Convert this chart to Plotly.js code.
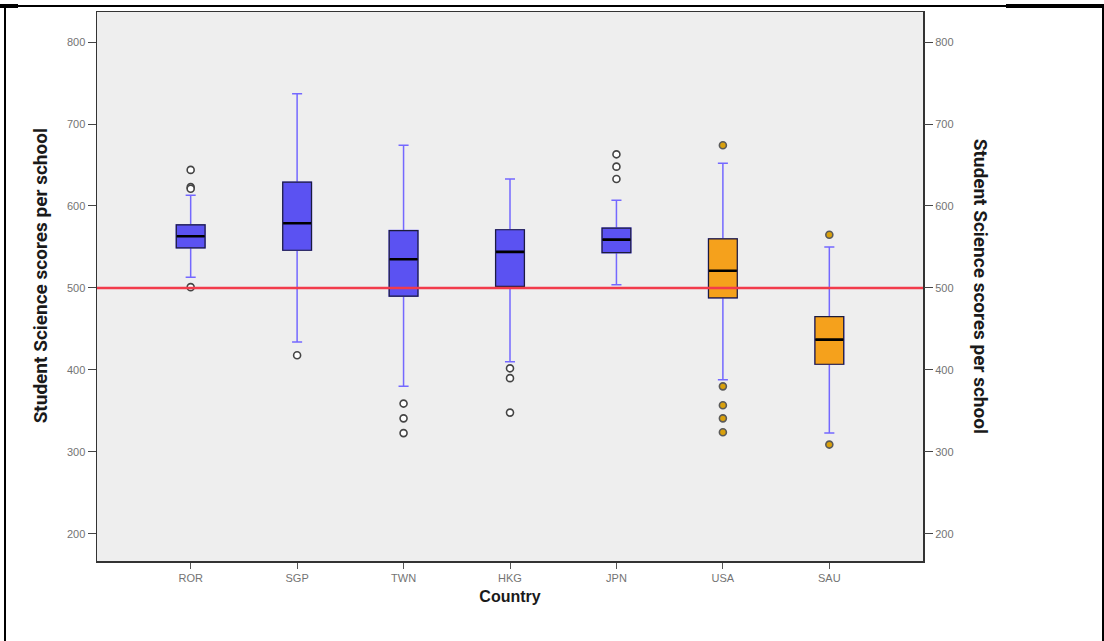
<!DOCTYPE html>
<html>
<head>
<meta charset="utf-8">
<script src="https://cdn.plot.ly/plotly-3.0.1.min.js"></script>
<style>
  html, body { margin: 0; padding: 0; background: #ffffff; }
  #wrap { position: relative; width: 1104px; height: 641px; overflow: hidden; }
  #chart { width: 1104px; height: 641px; }
  #frame { position: absolute; left: 4px; top: 5px; width: 1096px; height: 700px;
           border: 2px solid #000; pointer-events: none; }
  #tl { position: absolute; left: 0; top: 4px; width: 18px; height: 4px; background: #000; }
  #tr { position: absolute; left: 1006px; top: 4px; width: 98px; height: 4px; background: #000; }
</style>
</head>
<body>
<div id="wrap">
  <div id="chart"></div>
  <div id="frame"></div>
  <div id="tl"></div>
  <div id="tr"></div>
</div>
<script>
// ---- data ----
const countries      = ['ROR', 'SGP', 'TWN', 'HKG', 'JPN', 'USA', 'SAU'];
const q1             = [549, 546, 490, 502, 543, 488, 407];
const median         = [563, 579, 535, 544, 559, 521, 437];
const q3             = [577, 629, 570, 571, 573, 560, 465];
const lowerWhisker   = [513, 434, 380, 410, 504, 388, 323];
const upperWhisker   = [613, 737, 674, 633, 607, 652, 550];
const outliersROR    = [644, 623, 621, 501];
const outliersSGP    = [418];
const outliersTWN    = [359, 341, 323];
const outliersHKG    = [402, 390, 348];
const outliersJPN    = [663, 648, 633];
const outliersUSA    = [674, 380, 357, 341, 324];
const outliersSAU    = [565, 309];
const blueGroup      = ['ROR', 'SGP', 'TWN', 'HKG', 'JPN'];
const orangeGroup    = ['USA', 'SAU'];
const referenceScore = 500;
const yTicks         = [200, 300, 400, 500, 600, 700, 800];

// ---- styles ----
const blueFill = '#5b52f2';
const orangeFill = '#f5a11c';
const whiskerColor = '#7468ff';
const edgeColor = '#1c1c3a';
const boxW = 0.27;

function pick(arr, group) {
  return group.map(c => arr[countries.indexOf(c)]);
}

const traces = [];

// whiskers (blue) with caps
traces.push({
  type: 'box', x: countries,
  q1: q1, median: median, q3: q3,
  lowerfence: lowerWhisker, upperfence: upperWhisker,
  width: boxW, whiskerwidth: 0.35,
  fillcolor: 'rgba(0,0,0,0)',
  line: { color: whiskerColor, width: 1.5 },
  boxpoints: false, hoverinfo: 'skip', showlegend: false
});

// filled boxes
[[blueGroup, blueFill], [orangeGroup, orangeFill]].forEach(([grp, col]) => {
  const a = pick(q1, grp), m = pick(median, grp), b = pick(q3, grp);
  traces.push({
    type: 'box', x: grp,
    q1: a, median: m, q3: b, lowerfence: a, upperfence: b,
    width: boxW, whiskerwidth: 0,
    fillcolor: col,
    line: { color: edgeColor, width: 1.2 },
    boxpoints: false, hoverinfo: 'skip', showlegend: false
  });
});

// thick median lines
traces.push({
  type: 'box', x: countries,
  q1: median, median: median, q3: median, lowerfence: median, upperfence: median,
  width: boxW * 0.97, whiskerwidth: 0,
  fillcolor: 'rgba(0,0,0,0)',
  line: { color: '#000000', width: 2.6 },
  boxpoints: false, hoverinfo: 'skip', showlegend: false
});

// outliers
const outlierSets = {
  ROR: outliersROR, SGP: outliersSGP, TWN: outliersTWN, HKG: outliersHKG,
  JPN: outliersJPN, USA: outliersUSA, SAU: outliersSAU
};
function outlierTrace(grp, fill, edge) {
  const xs = [], ys = [];
  grp.forEach(c => outlierSets[c].forEach(v => { xs.push(c); ys.push(v); }));
  return {
    type: 'scatter', mode: 'markers', x: xs, y: ys,
    marker: { symbol: 'circle', size: 7, color: fill, line: { color: edge, width: 1.6 } },
    hoverinfo: 'skip', showlegend: false
  };
}
traces.push(outlierTrace(blueGroup, '#ffffff', '#444444'));
traces.push(outlierTrace(orangeGroup, '#d9a00c', '#5a5a5a'));

// invisible trace for the right axis
traces.push({
  type: 'scatter', mode: 'markers', x: [countries[0]], y: [referenceScore],
  yaxis: 'y2', marker: { opacity: 0 }, hoverinfo: 'skip', showlegend: false
});

const yRange = [167, 836.6];
const tickFont = { family: 'Liberation Sans, Arial, sans-serif', size: 11, color: '#737373' };
const titleFont = { family: 'Liberation Sans Narrow, Roboto, sans-serif', size: 19, color: '#1a1a1a', weight: 'bold' };

const layout = {
  width: 1104, height: 641,
  margin: { l: 97, r: 181, t: 12, b: 80 },
  paper_bgcolor: 'rgba(0,0,0,0)',
  plot_bgcolor: '#eeeeee',
  boxmode: 'overlay',
  showlegend: false,
  xaxis: {
    type: 'category', categoryorder: 'array', categoryarray: countries,
    range: [-0.88, 6.88],
    showgrid: false, zeroline: false,
    showline: true, linecolor: '#333333', linewidth: 1.5, mirror: true,
    ticks: 'outside', ticklen: 6, tickcolor: '#555555', tickwidth: 1,
    tickfont: tickFont,
    title: { text: 'Country', font: { family: 'Liberation Sans, Arial, sans-serif', size: 16, color: '#1a1a1a', weight: 'bold' }, standoff: 8 }
  },
  yaxis: {
    range: yRange, tickvals: yTicks,
    showgrid: false, zeroline: false,
    showline: true, linecolor: '#333333', linewidth: 1.5, mirror: true,
    ticks: 'outside', ticklen: 8, tickcolor: '#444444', tickwidth: 1,
    tickfont: tickFont
  },
  yaxis2: {
    range: yRange, tickvals: yTicks, overlaying: 'y', side: 'right',
    showgrid: false, zeroline: false, showline: false,
    ticks: 'outside', ticklen: 9, tickcolor: '#444444', tickwidth: 1,
    tickfont: tickFont
  },
  shapes: [{
    type: 'line', xref: 'paper', yref: 'y', x0: 0, x1: 1,
    y0: referenceScore, y1: referenceScore,
    line: { color: '#f23b4b', width: 2.5 }, layer: 'above'
  }],
  annotations: [
    {
      text: 'Student Science scores per school', textangle: -90,
      xref: 'paper', yref: 'paper', x: -0.068, y: 0.52,
      xanchor: 'center', yanchor: 'middle', showarrow: false, font: titleFont
    },
    {
      text: 'Student Science scores per school', textangle: 90,
      xref: 'paper', yref: 'paper', x: 1.07, y: 0.50,
      xanchor: 'center', yanchor: 'middle', showarrow: false, font: titleFont
    }
  ]
};

Plotly.newPlot('chart', traces, layout, { displayModeBar: false, staticPlot: true });
</script>
</body>
</html>
